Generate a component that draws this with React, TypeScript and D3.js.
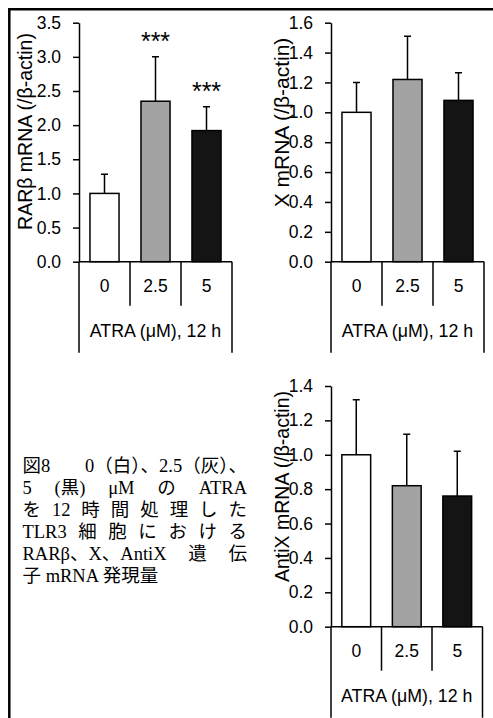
import { useRef, useEffect } from 'react';
import * as d3 from 'd3';

const categories = ['0', '2.5', '5'];
const barColors = ['#ffffff', '#a3a3a3', '#141414'];

const rarbMeans = [1.0, 2.35, 1.92];
const rarbErrors = [0.28, 0.65, 0.35];
const rarbStars = ['', '***', '***'];
const rarbTicks = [0, 0.5, 1.0, 1.5, 2.0, 2.5, 3.0, 3.5];

const xMeans = [1.0, 1.22, 1.08];
const xErrors = [0.2, 0.29, 0.185];
const xTicks = [0, 0.2, 0.4, 0.6, 0.8, 1.0, 1.2, 1.4, 1.6];

const antiXMeans = [1.0, 0.82, 0.76];
const antiXErrors = [0.32, 0.3, 0.26];
const antiXTicks = [0, 0.2, 0.4, 0.6, 0.8, 1.0, 1.2, 1.4];

const xAxisTitle = 'ATRA (μM), 12 h';

// caption, split into the pieces that get spread out when the line is justified
const captionLines = [
    ['図8', '0（白）、2.5（灰）、'],
    ['5', '(黒)', 'μM', 'の', 'ATRA'],
    ['を', '12', '時', '間', '処', '理', 'し', 'た'],
    ['TLR3', '細', '胞', 'に', 'お', 'け', 'る'],
    ['RARβ、X、AntiX', '遺', '伝'],
    ['子 mRNA 発現量'],
];

interface Panel {
    means: number[];
    errors: number[];
    stars: string[];
    ticks: number[];
    yLabel: string;
    labelSize: number;
    left: number;
    right: number;
    top: number;
    bottom: number;
    labelX: number;
    labelY: number;
}

const panels: Panel[] = [
    {
        means: rarbMeans, errors: rarbErrors, stars: rarbStars, ticks: rarbTicks,
        yLabel: 'RARβ mRNA (/β-actin)', labelSize: 19.5,
        left: 79, right: 232, top: 22.7, bottom: 261.7, labelX: 31.5, labelY: 131.5,
    },
    {
        means: xMeans, errors: xErrors, stars: [], ticks: xTicks,
        yLabel: 'X mRNA (/β-actin)', labelSize: 21,
        left: 331, right: 484, top: 22.7, bottom: 261.7, labelX: 289, labelY: 122.5,
    },
    {
        means: antiXMeans, errors: antiXErrors, stars: [], ticks: antiXTicks,
        yLabel: 'AntiX mRNA (/β-actin)', labelSize: 19.5,
        left: 331, right: 482.5, top: 386, bottom: 626.7, labelX: 289, labelY: 486.5,
    },
];

const FONT = "'Liberation Sans', Arial, sans-serif";
const CAPTION_FONT = "'Liberation Serif', 'Noto Sans CJK JP', serif";

function drawPanel(svg: d3.Selection<SVGSVGElement, unknown, null, undefined>, p: Panel) {
    const x = d3.scaleBand<string>().domain(categories).range([p.left, p.right]);
    const y = d3.scaleLinear()
        .domain([0, p.ticks[p.ticks.length - 1]])
        .range([p.bottom, p.top]);

    const g = svg.append('g');
    const barW = x.bandwidth() * 0.57;
    const rows = categories.map((c, i) => ({ c, i, mean: p.means[i], err: p.errors[i] }));

    // Error bars (only the upper half shows)
    g.selectAll('.err')
        .data(rows)
        .enter()
        .append('path')
        .attr('fill', 'none')
        .attr('stroke', '#000')
        .attr('stroke-width', 1.5)
        .attr('d', d => {
            const cx = (x(d.c) as number) + x.bandwidth() / 2;
            const yt = y(d.mean + d.err);
            return `M${cx},${y(d.mean)}V${yt}M${cx - 3.5},${yt}H${cx + 3.5}`;
        });

    // Bars
    g.selectAll('.bar')
        .data(rows)
        .enter()
        .append('rect')
        .attr('x', d => (x(d.c) as number) + (x.bandwidth() - barW) / 2)
        .attr('y', d => y(d.mean))
        .attr('width', barW)
        .attr('height', d => y(0) - y(d.mean))
        .attr('fill', d => barColors[d.i])
        .attr('stroke', '#000')
        .attr('stroke-width', 1.5);

    // Significance stars
    g.selectAll('.star')
        .data(rows.filter(d => p.stars[d.i]))
        .enter()
        .append('text')
        .attr('x', d => (x(d.c) as number) + x.bandwidth() / 2)
        .attr('y', d => y(d.mean + d.err) - 7)
        .attr('text-anchor', 'middle')
        .attr('font-family', FONT)
        .attr('font-size', 25)
        .attr('fill', '#000')
        .text(d => p.stars[d.i]);

    // Y axis
    const ya = g.append('g')
        .attr('transform', `translate(${p.left},0)`)
        .call(
            d3.axisLeft(y)
                .tickValues(p.ticks)
                .tickFormat(d3.format('.1f'))
                .tickSize(6)
                .tickSizeOuter(0)
                .tickPadding(12)
        );
    ya.selectAll('line').attr('stroke', '#000').attr('stroke-width', 1.5);
    ya.select('.domain').attr('stroke', '#000').attr('stroke-width', 1.5);
    ya.selectAll('text')
        .attr('font-family', FONT)
        .attr('font-size', 17.5)
        .attr('fill', '#000');

    // X axis line + table grid under it
    const tbl = g.append('g')
        .attr('stroke', '#000')
        .attr('stroke-width', 1.5);
    tbl.append('line')
        .attr('x1', p.left).attr('x2', p.right)
        .attr('y1', y(0)).attr('y2', y(0));
    categories.slice(1).forEach(c => {
        tbl.append('line')
            .attr('x1', x(c) as number).attr('x2', x(c) as number)
            .attr('y1', y(0)).attr('y2', y(0) + 44);
    });
    [p.left, p.right].forEach(xx => {
        tbl.append('line')
            .attr('x1', xx).attr('x2', xx)
            .attr('y1', y(0)).attr('y2', y(0) + 91);
    });

    g.selectAll('.cat')
        .data(categories)
        .enter()
        .append('text')
        .attr('x', d => (x(d) as number) + x.bandwidth() / 2)
        .attr('y', y(0) + 30)
        .attr('text-anchor', 'middle')
        .attr('font-family', FONT)
        .attr('font-size', 17.5)
        .attr('fill', '#000')
        .text(d => d);

    g.append('text')
        .attr('x', (p.left + p.right) / 2)
        .attr('y', y(0) + 75)
        .attr('text-anchor', 'middle')
        .attr('font-family', FONT)
        .attr('font-size', 17.8)
        .attr('fill', '#000')
        .text(xAxisTitle);

    // Y label
    g.append('text')
        .attr('transform', `translate(${p.labelX},${p.labelY}) rotate(-90)`)
        .attr('text-anchor', 'middle')
        .attr('font-family', FONT)
        .attr('font-size', p.labelSize)
        .attr('fill', '#000')
        .text(p.yLabel);
}

export default function App() {
    const svgRef = useRef<SVGSVGElement>(null);

    useEffect(() => {
        if (!svgRef.current) return;
        const width = 493;
        const height = 718;
        const svg = d3.select(svgRef.current)
            .attr('width', width)
            .attr('height', height)
            .attr('viewBox', `0 0 ${width} ${height}`);

        svg.selectAll('*').remove();

        svg.append('rect')
            .attr('width', width)
            .attr('height', height)
            .attr('fill', '#fff');

        // Frame (top and left edges)
        svg.append('path')
            .attr('fill', 'none')
            .attr('stroke', '#000')
            .attr('stroke-width', 2.5)
            .attr('d', `M9.3,${height}V9.3H${width}`);

        panels.forEach(p => drawPanel(svg, p));

        // Caption, justified between capLeft and capRight
        const capTop = 472;
        const capLeft = 22.5;
        const capRight = 247;
        captionLines.forEach((pieces, i) => {
            const lineG = svg.append('g');
            const texts = pieces.map(s =>
                lineG.append('text')
                    .attr('y', capTop + i * 22)
                    .attr('font-family', CAPTION_FONT)
                    .attr('font-size', 18.5)
                    .attr('fill', '#000')
                    .text(s)
            );
            const widths = texts.map(t => (t.node() as SVGTextElement).getComputedTextLength());
            const total = d3.sum(widths);
            const gap = pieces.length > 1 ? (capRight - capLeft - total) / (pieces.length - 1) : 0;
            let cx = capLeft;
            texts.forEach((t, k) => {
                t.attr('x', cx);
                cx += widths[k] + gap;
            });
        });
    }, []);

    return (
        <svg
            ref={svgRef}
            style={{ position: 'fixed', top: 0, left: 0, display: 'block' }}
        />
    );
}
